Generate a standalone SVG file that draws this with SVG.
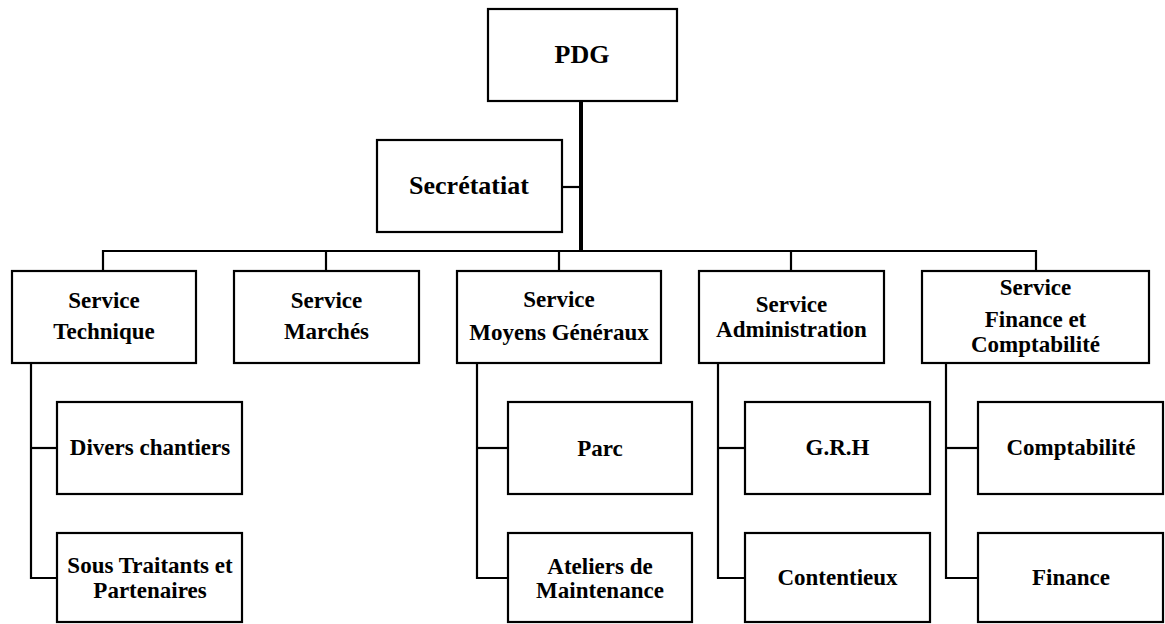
<svg xmlns="http://www.w3.org/2000/svg" width="1165" height="624" viewBox="0 0 1165 624">
<style>
  .box { fill: #ffffff; stroke: #000000; stroke-width: 2.2; }
  .ln { fill: none; stroke: #000000; stroke-width: 2.2; stroke-linejoin: miter; }
  .main { fill: none; stroke: #000000; stroke-width: 4; }
  text { font-family: "Liberation Serif", "Times New Roman", serif; font-weight: bold; fill: #000000; text-anchor: middle; }
  .big { font-size: 26px; }
  .t { font-size: 23px; }
</style>
<rect width="1165" height="624" fill="#ffffff"/>
<g id="connectors">
  <line class="main" x1="581" y1="101" x2="581" y2="252"/>
  <line class="ln" x1="562" y1="187" x2="581" y2="187"/>
  <polyline class="ln" points="103,271 103,251 1036,251 1036,271"/>
  <line class="ln" x1="326" y1="251" x2="326" y2="271"/>
  <line class="ln" x1="559" y1="251" x2="559" y2="271"/>
  <line class="ln" x1="791" y1="251" x2="791" y2="271"/>
  <polyline class="ln" points="31,363 31,578 57,578"/>
  <line class="ln" x1="31" y1="448" x2="57" y2="448"/>
  <polyline class="ln" points="477,363 477,578 508,578"/>
  <line class="ln" x1="477" y1="448" x2="508" y2="448"/>
  <polyline class="ln" points="718,363 718,578 745,578"/>
  <line class="ln" x1="718" y1="448" x2="745" y2="448"/>
  <polyline class="ln" points="946,363 946,578 978,578"/>
  <line class="ln" x1="946" y1="448" x2="978" y2="448"/>
</g>
<g id="pdg">
  <rect class="box" x="488" y="9" width="189" height="92"/>
  <text class="big" x="582" y="63">PDG</text>
</g>
<g id="secretariat">
  <rect class="box" x="377" y="140" width="185" height="92"/>
  <text class="big" x="469" y="194">Secrétatiat</text>
</g>
<g id="service-technique">
  <rect class="box" x="12" y="271" width="184" height="92"/>
  <text class="t" x="104" y="308">Service</text>
  <text class="t" x="104" y="339">Technique</text>
</g>
<g id="service-marches">
  <rect class="box" x="234" y="271" width="185" height="92"/>
  <text class="t" x="326.5" y="308">Service</text>
  <text class="t" x="326.5" y="339">Marchés</text>
</g>
<g id="service-moyens">
  <rect class="box" x="457" y="271" width="204" height="92"/>
  <text class="t" x="559" y="307">Service</text>
  <text class="t" x="559" y="340">Moyens Généraux</text>
</g>
<g id="service-administration">
  <rect class="box" x="699" y="271" width="185" height="92"/>
  <text class="t" x="791.5" y="312">Service</text>
  <text class="t" x="791.5" y="337">Administration</text>
</g>
<g id="service-finance">
  <rect class="box" x="922" y="271" width="227" height="92"/>
  <text class="t" x="1035.5" y="295">Service</text>
  <text class="t" x="1035.5" y="327">Finance et</text>
  <text class="t" x="1035.5" y="352">Comptabilité</text>
</g>
<g id="divers-chantiers">
  <rect class="box" x="57" y="402" width="185" height="92"/>
  <text class="t" x="150" y="455">Divers chantiers</text>
</g>
<g id="sous-traitants">
  <rect class="box" x="57" y="533" width="185" height="89"/>
  <text class="t" x="150" y="573">Sous Traitants et</text>
  <text class="t" x="150" y="598">Partenaires</text>
</g>
<g id="parc">
  <rect class="box" x="508" y="402" width="184" height="92"/>
  <text class="t" x="600" y="456">Parc</text>
</g>
<g id="ateliers">
  <rect class="box" x="508" y="533" width="184" height="89"/>
  <text class="t" x="600" y="574">Ateliers de</text>
  <text class="t" x="600" y="598">Maintenance</text>
</g>
<g id="grh">
  <rect class="box" x="745" y="402" width="185" height="92"/>
  <text class="t" x="837.5" y="455">G.R.H</text>
</g>
<g id="contentieux">
  <rect class="box" x="745" y="533" width="185" height="89"/>
  <text class="t" x="837.5" y="585">Contentieux</text>
</g>
<g id="comptabilite">
  <rect class="box" x="978" y="402" width="185" height="92"/>
  <text class="t" x="1071" y="455">Comptabilité</text>
</g>
<g id="finance">
  <rect class="box" x="978" y="533" width="185" height="89"/>
  <text class="t" x="1071" y="585">Finance</text>
</g>
</svg>
